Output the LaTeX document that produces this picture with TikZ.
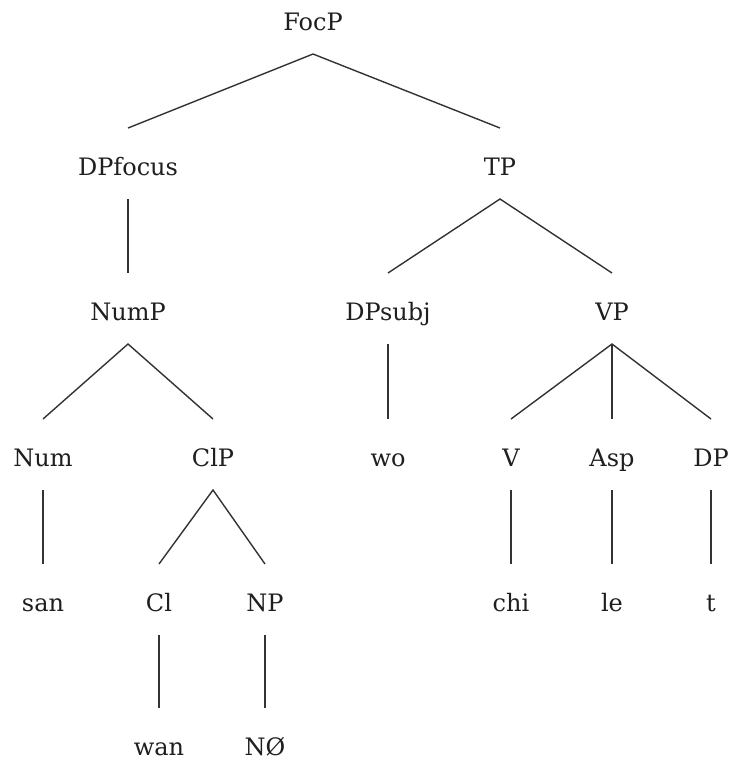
\documentclass[tikz,border=0pt]{standalone}
\usepackage{fontspec}
\setmainfont{DejaVu Serif}
\begin{document}
\begin{tikzpicture}[x=1pt,y=-1pt,
  lab/.style={anchor=base,inner sep=0pt,outer sep=0pt,text height=47pt,text depth=24pt,
    font=\fontsize{24}{28}\selectfont,text=black!88},
  edge/.style={draw=black!80,line width=1.4pt}]
\useasboundingbox[fill=white] (0,0) rectangle (732,764);
% row baselines: 30,175,320,466,611,755
\node[lab] (focp) at (313,30) {FocP};
\node[lab] (dpf) at (128,175) {DPfocus};
\node[lab] (tp) at (500,175) {TP};
\node[lab] (nump) at (128,320) {NumP};
\node[lab] (dps) at (388,320) {DPsubj};
\node[lab] (vp) at (612,320) {VP};
\node[lab] (num) at (43,466) {Num};
\node[lab] (clp) at (213,466) {ClP};
\node[lab] (wo) at (388,466) {wo};
\node[lab] (v) at (511,466) {V};
\node[lab] (asp) at (612,466) {Asp};
\node[lab] (dp) at (711,466) {DP};
\node[lab] (san) at (43,611) {san};
\node[lab] (cl) at (159,611) {Cl};
\node[lab] (np) at (265,611) {NP};
\node[lab] (chi) at (511,611) {chi};
\node[lab] (le) at (612,611) {le};
\node[lab] (t) at (711,611) {t};
\node[lab] (wan) at (159,755) {wan};
\node[lab] (nz) at (265,755) {NØ};
\path[edge] (dpf.north) -- (focp.south) -- (tp.north);
\path[edge] (dpf.south) -- (nump.north);
\path[edge] (dps.north) -- (tp.south) -- (vp.north);
\path[edge] (num.north) -- (nump.south) -- (clp.north);
\path[edge] (dps.south) -- (wo.north);
\path[edge] (v.north) -- (vp.south) -- (dp.north);
\path[edge] (vp.south) -- (asp.north);
\path[edge] (num.south) -- (san.north);
\path[edge] (cl.north) -- (clp.south) -- (np.north);
\path[edge] (v.south) -- (chi.north);
\path[edge] (asp.south) -- (le.north);
\path[edge] (dp.south) -- (t.north);
\path[edge] (cl.south) -- (wan.north);
\path[edge] (np.south) -- (nz.north);
\end{tikzpicture}
\end{document}
